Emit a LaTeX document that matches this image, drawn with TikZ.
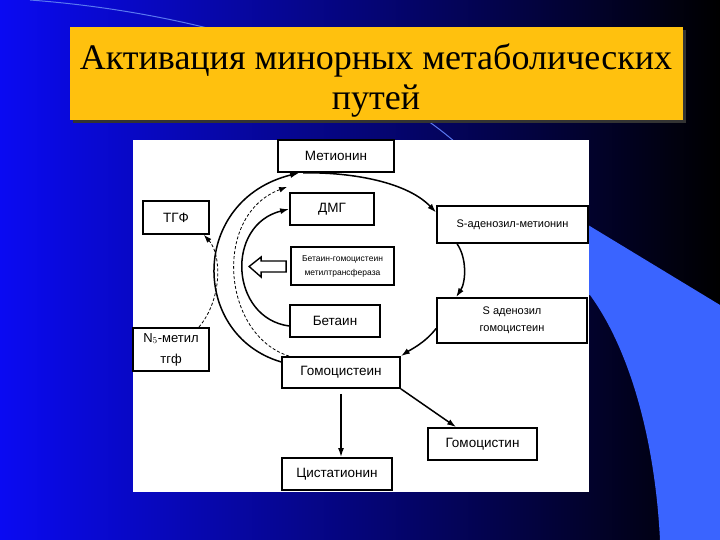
\documentclass[tikz,border=0pt]{standalone}
\usepackage{fontspec}
\setmainfont{Liberation Serif}
\setsansfont{Liberation Sans}
\usetikzlibrary{positioning,arrows.meta,calc}
\definecolor{bgBlue}{HTML}{0A0AF2}
\definecolor{swooshBlue}{HTML}{3A64FF}
\definecolor{arcBlue}{HTML}{5A78F0}
\definecolor{titleGold}{HTML}{FFC10E}

\begin{document}
\begin{tikzpicture}[
  x=1pt, y=-1pt,
  font=\sffamily,
  >=Latex,
  %% Node styles
  box/.style={
    rectangle, draw=black, fill=white, line width=1.8pt,
    inner sep=1pt, align=center,
    font=\sffamily\fontsize{13.5}{15}\selectfont
  },
  smallbox/.style={box, font=\sffamily\fontsize{11}{17}\selectfont},
  tinybox/.style={box, font=\sffamily\fontsize{8.5}{14}\selectfont},
  %% Arrow styles
  flow/.style={-{Latex[length=9pt,width=6pt]}, line width=1.5pt},
  dflow/.style={-{Latex[length=8pt,width=5.5pt]}, line width=0.8pt,
                dash pattern=on 3pt off 2pt},
]
\useasboundingbox (0,0) rectangle (720,540);

%% ── Slide background ───────────────────────────────────────────────────────
\shade[left color=bgBlue, right color=black] (0,0) rectangle (720,540);
\fill[swooshBlue] (560,208) -- (720,305) -- (720,540) -- (660,540)
  .. controls (655,440) and (630,350) .. (590,295) -- (560,295) -- cycle;
\draw[arcBlue, line width=1pt] (30,0) .. controls (190,12) and (360,60) .. (455,142);

%% ── Title ──────────────────────────────────────────────────────────────────
\fill[black!80] (73,30) rectangle (686,123);
\node[fill=titleGold, minimum width=613pt, minimum height=93pt,
      inner sep=0pt] (titlebox) at (376.5,73.5) {};
\node[font=\rmfamily\fontsize{36}{40}\selectfont, align=center]
  (titletext) at (376,81) {Активация минорных метаболических\\путей};

%% ── White panel ────────────────────────────────────────────────────────────
\fill[white] (133,140) rectangle (589,492);

%% ── Boxes ──────────────────────────────────────────────────────────────────
\node[box, minimum width=116pt, minimum height=32pt] (met)  at (336,156)   {Метионин};
\node[box, minimum width=84pt,  minimum height=32pt] (dmg)  at (332,209)   {ДМГ};
\node[smallbox, minimum width=151pt, minimum height=37pt] (sam) at (512.5,224.5) {S-аденозил-метионин};
\node[tinybox, minimum width=103pt, minimum height=38pt] (bhmt) at (342.5,266)
  {Бетаин-гомоцистеин\\метилтрансфераза};
\node[box, minimum width=90pt,  minimum height=32pt] (bet)  at (335,321)   {Бетаин};
\node[smallbox, minimum width=150pt, minimum height=45pt] (sah) at (512,320.5)
  {S аденозил\\гомоцистеин};
\node[box, minimum width=118pt, minimum height=31pt] (hcy)  at (341,372.5) {Гомоцистеин};
\node[box, minimum width=109pt, minimum height=32pt] (hcn)  at (482.5,444) {Гомоцистин};
\node[box, minimum width=110pt, minimum height=32pt] (cth)  at (337,474)   {Цистатионин};
\node[box, minimum width=66pt,  minimum height=33pt] (thf)  at (176,217.5) {ТГФ};
\node[box, minimum width=76pt,  minimum height=43pt,
      font=\sffamily\fontsize{13}{21}\selectfont] (mthf) at (171,349.5)
  {N$_5$-метил\\тгф};

%% ── Main cycle ─────────────────────────────────────────────────────────────
\draw[flow] (hcy.170) .. controls (190,335) and (190,200) .. ([xshift=22pt]met.south west);
\draw[flow] ([xshift=26pt]met.south west) .. controls (345,172) and (405,180) .. ([yshift=12pt]sam.west);
\draw[flow] ([xshift=21pt]sam.south west) .. controls (467,258) and (466,282) .. ([xshift=20pt]sah.north west);
\draw[flow] ([yshift=-8pt]sah.west) .. controls (425,343) and (410,350) .. (hcy.north east);

%% ── Homocysteine exits ─────────────────────────────────────────────────────
\draw[flow] ([yshift=-5pt]hcy.south) -- (hcy.south |- cth.north);
\draw[flow] (hcy.south east) -- ([xshift=29pt]hcn.north west);

%% ── Betaine route ──────────────────────────────────────────────────────────
\draw[flow] ([yshift=-5pt]bet.west) .. controls (230,318) and (225,225) .. (dmg.west);
\draw[line width=1.4pt, fill=white] ($(bhmt.west)+(-4,-5)$) -- ++(-25,0) -- ++(0,-4)
  -- ++(-12,9.5) -- ++(12,10.5) -- ++(0,-5) -- ++(25,0) -- cycle;

%% ── Folate route (dashed) ──────────────────────────────────────────────────
\draw[dflow] ([xshift=8pt]hcy.north west) .. controls (222,335) and (212,215)
  .. ([xshift=10pt,yshift=-14pt]met.south west);
\draw[dflow] ([xshift=-11pt]mthf.north east) .. controls (222,300) and (222,255)
  .. ([xshift=-6pt]thf.south east);

\end{tikzpicture}
\end{document}
